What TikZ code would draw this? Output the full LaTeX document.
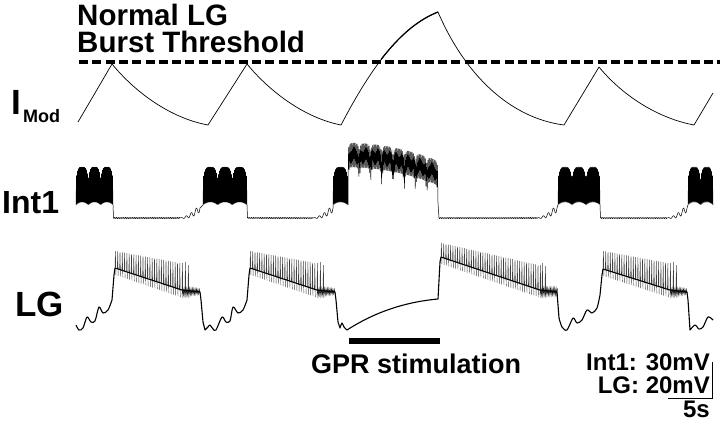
\documentclass[tikz,border=0pt]{standalone}
\usepackage{fontspec}
\setmainfont{Liberation Sans}
\newcommand\LGspk[7]{\draw[spk] \foreach \i in {0,...,#2} {({#1+#3*\i},{#4+#5*\i/#2}) -- ({#1+0.4+#3*\i},{#6+#7*\i/#2}) -- ({#1+0.9+#3*\i},{#4+7+#5*\i/#2})};}
\newcommand\LGiso[2]{\draw[spk] (#1,291) -- ({#1+0.4},#2) -- ({#1+0.9},298);}
\begin{document}
\begin{tikzpicture}[x=1pt,y=-1pt,
  declare function={
    uu(\x,\a,\w)=abs(2*mod(\x-\a,\w)/\w-1);
    alt(\x,\a,\s)=cos(180*mod((\x-\a)/\s,2));
    pf(\u)=\u*\u*\u*\u;
    iby(\u,\s)=184.5+6*pf(\u)+1.5*\u*\u+(17.5-6*pf(\u)+1.5*\u*\u)*\s;
    ib(\x,\a,\w)=iby(uu(\x,\a,\w),alt(\x,\a,0.5));
    gpy(\x,\u,\s)=155+18*((\x-348)/90)^2+3.5*pf(\u)+9*pf(\u)*pf(\u)+(12-3.5*pf(\u)+9*pf(\u)*pf(\u))*\s;
    gp(\x)=gpy(\x,uu(\x,348,11.25),alt(\x,348,0.6));
    nz(\x)=0.7*sin(200*mod(\x,1.8));
    wg(\x,\a)=218-10*((\x-\a)/20)^2-4*((\x-\a)/20)*sin(72*(\x-\a));
    dk(\x,\a)=291.5+3*alt(\x,\a,0.7);
  },
  lbl/.style={font=\bfseries\fontsize{#1}{#1}\selectfont, inner sep=0pt},
  imod/.style={line width=0.7pt, line join=round},
  intline/.style={line width=0.5pt, line join=round},
  lgline/.style={line width=1.1pt, line join=round},
  dkline/.style={line width=0.6pt, black!85},
  spk/.style={line width=0.45pt, black!75},
  thr/.style={line width=4pt, dash pattern=on 9pt off 4.3pt},
  stimbar/.style={line width=5.5pt},
  scalebar/.style={line width=1.2pt}
]
\useasboundingbox (0,0) rectangle (720,421);

% labels
\node[lbl=29.5, anchor=base west] (title1) at (77,25) {Normal LG};
\node[lbl=29.5, anchor=base west] (title2) at (77,52) {Burst Threshold};
\node[lbl=35, anchor=base west] (imodI) at (11,114) {I};
\node[lbl=18, anchor=base west] (imodSub) at (23,122) {Mod};
\node[lbl=32, anchor=base west] (int1lbl) at (2,213) {Int1};
\node[lbl=35, anchor=base west] (lglbl) at (15,316) {LG};
\node[lbl=27, anchor=base west] (gprlbl) at (311,373) {GPR stimulation};
\node[lbl=24, anchor=base east] (sc1) at (710,370) {Int1: 30mV};
\node[lbl=24, anchor=base east] (sc2) at (710,393) {LG: 20mV};
\node[lbl=24, anchor=base east] (sc3) at (710,417) {5s};

% threshold line
\coordinate (thrL) at (79,62);
\coordinate (thrR) at (720,62);
\draw[thr] (thrL) -- (thrR);

% I_Mod trace
\draw[imod] (78,122) -- (112,64) .. controls (135,92) and (170,118) .. (208,125)
  -- (247,64) .. controls (270,92) and (305,118) .. (341,125)
  .. controls (362,85) and (395,28) .. (438,12)
  .. controls (465,75) and (510,118) .. (564,125)
  -- (599,67) .. controls (622,95) and (657,118) .. (694,125) -- (713,93);
\draw[line width=1.2pt] (381,59.5) .. controls (400,35) and (418,20) .. (438,12);

% Int1 trace
\draw[intline] plot[domain=76:113,samples=75] (\x,{ib(\x,76,12.333)})
 -- (113.5,218)
 -- plot[domain=114:180,samples=111] (\x,{218+nz(\x)})
 -- plot[domain=180:200,samples=61] (\x,{wg(\x,180)})
 -- plot[domain=203:247,samples=89] (\x,{ib(\x,203,14.667)})
 -- (247.5,218)
 -- plot[domain=248:313,samples=109] (\x,{218+nz(\x)})
 -- plot[domain=313:333,samples=61] (\x,{wg(\x,313)})
 -- plot[domain=333:348,samples=31] (\x,{ib(\x,333,15)})
 -- plot[domain=348:438,samples=151] (\x,{gp(\x)})
 -- (439,218)
 -- plot[domain=439:537,samples=164] (\x,{218+nz(\x)})
 -- plot[domain=537:557,samples=61] (\x,{wg(\x,537)})
 -- plot[domain=558:600,samples=85] (\x,{ib(\x,558,14)})
 -- (600.5,218)
 -- plot[domain=601:667,samples=111] (\x,{218+nz(\x)})
 -- plot[domain=667:687,samples=61] (\x,{wg(\x,667)})
 -- plot[domain=688:713,samples=51] (\x,{ib(\x,688,12.5)});

% LG trace: spikes
\LGspk{115}{28}{2.3}{268}{22}{251}{12}
\LGiso{182}{263}\LGiso{185}{262}\LGiso{188}{265}
\LGspk{250}{28}{2.3}{268}{22}{251}{12}
\LGiso{317}{263}\LGiso{320}{262}\LGiso{323}{265}
\LGspk{441}{42}{2.3}{257}{33}{243}{22}
\LGiso{540}{265}\LGiso{542}{263}\LGiso{545}{266}
\LGspk{603}{28}{2.3}{269}{21}{251}{12}
\LGiso{670}{263}\LGiso{673}{262}\LGiso{676}{265}

% LG trace: noisy plateaus after bursts
\draw[dkline] plot[domain=182:200,samples=27] (\x,{dk(\x,182)});
\draw[dkline] plot[domain=317:335,samples=27] (\x,{dk(\x,317)});
\draw[dkline] plot[domain=540:557.5,samples=26] (\x,{dk(\x,540)});
\draw[dkline] plot[domain=670:687,samples=25] (\x,{dk(\x,670)});

% LG trace: membrane potential
\draw[lgline] plot[smooth,tension=0.5] coordinates {(76,325) (79,330) (83,328) (87,317) (91,322) (95,321) (99,307) (103,313) (108,310) (112,300)}
 -- (114,275) -- (115,268) -- (182,290) -- (200,292)
 -- (201,300) -- (203,322)
 -- plot[smooth,tension=0.5] coordinates {(205,330) (208,327) (210,325) (213,329) (216,330) (222,317) (226,322) (230,321) (233,307) (238,313) (243,310) (247,300)}
 -- (249,275) -- (250,268) -- (317,290) -- (335,292)
 -- (336,300) -- (338,322)
 -- plot[smooth,tension=0.5] coordinates {(340,328) (342,323) (344,327) (347,330)}
 .. controls (375,312) and (405,302) .. (438,299)
 -- (440,262) -- (441,257) -- (540,290) -- (557,292)
 -- (558,305)
 -- plot[smooth,tension=0.5] coordinates {(559,318) (562,327) (567,330) (573,318) (577,323) (582,320) (587,310) (592,313) (597,308) (600,295)}
 -- (602,275) -- (603,269) -- (670,290) -- (687,292)
 -- (688,300)
 -- plot[smooth,tension=0.5] coordinates {(690,330) (695,325) (699,329) (703,327) (708,317) (713,320)};

% GPR stimulation bar
\coordinate (gprL) at (349,341);
\coordinate (gprR) at (440,341);
\draw[stimbar] (gprL) -- (gprR);

% scale bar
\coordinate (sbTop) at (712.5,362);
\coordinate (sbCorner) at (712.5,398.5);
\coordinate (sbLeft) at (668,398.5);
\draw[scalebar] (sbTop) -- (sbCorner) -- (sbLeft);
\end{tikzpicture}
\end{document}
